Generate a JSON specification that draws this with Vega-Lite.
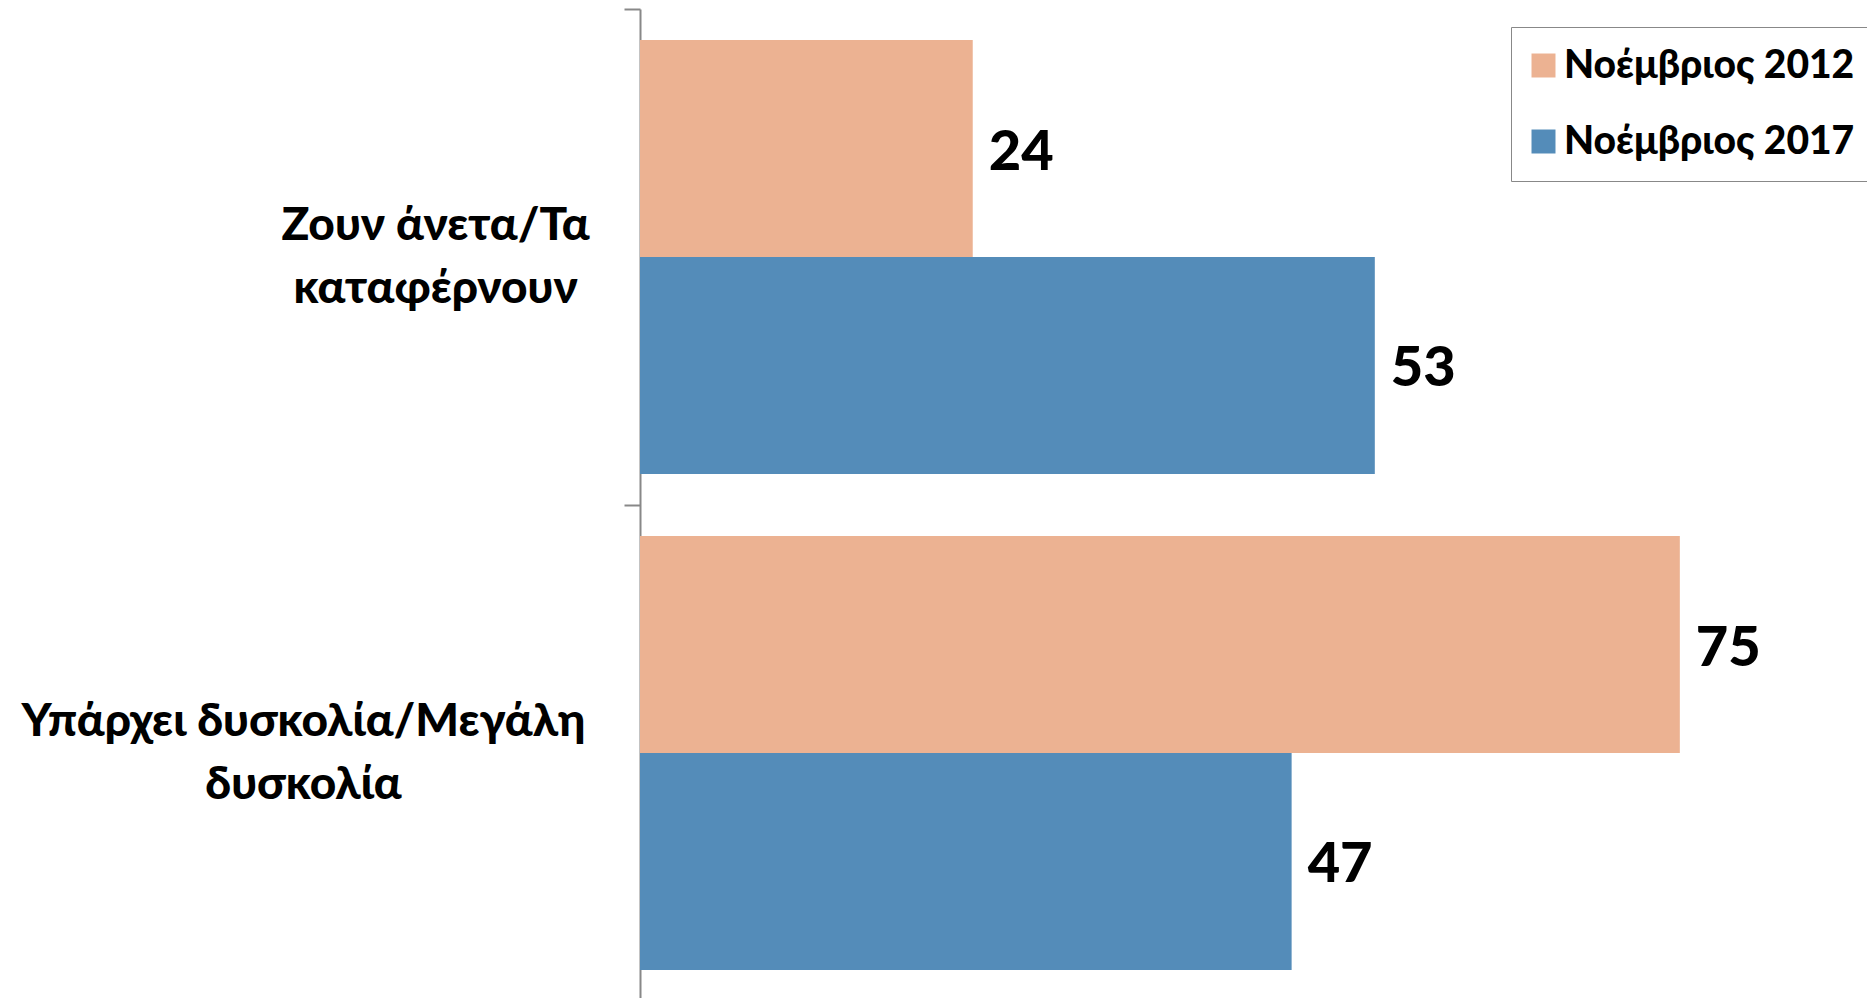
{
  "$schema": "https://vega.github.io/schema/vega-lite/v6.json",
  "autosize": "none",
  "padding": {"left": 640, "top": 9, "right": 0, "bottom": 0},
  "width": 1227,
  "height": 992,
  "background": "white",
  "data": {
    "values": [
      {"cat": "Ζουν άνετα/Τα\nκαταφέρνουν", "series": "Νοέμβριος 2012", "value": 24},
      {"cat": "Ζουν άνετα/Τα\nκαταφέρνουν", "series": "Νοέμβριος 2017", "value": 53},
      {"cat": "Υπάρχει δυσκολία/Μεγάλη\nδυσκολία", "series": "Νοέμβριος 2012", "value": 75},
      {"cat": "Υπάρχει δυσκολία/Μεγάλη\nδυσκολία", "series": "Νοέμβριος 2017", "value": 47}
    ]
  },
  "encoding": {
    "y": {
      "field": "cat", "type": "nominal", "sort": null,
      "scale": {"paddingInner": 0, "paddingOuter": 0},
      "axis": {
        "title": null,
        "tickBand": "extent",
        "domainColor": "#888888", "domainWidth": 2,
        "tickColor": "#888888", "tickWidth": 2, "tickSize": 16,
        "labelExpr": "split(datum.label, '\\n')",
        "labelAlign": "center", "labelBaseline": "middle",
        "labelFont": "Lato", "labelFontWeight": 900, "labelFontSize": 46,
        "labelLineHeight": 63, "labelColor": "black",
        "labelLimit": 0, "labelOffset": -32,
        "labelPadding": {"condition": {"test": "datum.index < 0.5", "value": 189}, "value": 321}
      }
    },
    "yOffset": {
      "field": "series", "type": "nominal", "sort": null,
      "scale": {"paddingInner": 0, "paddingOuter": 0.1435}
    },
    "x": {
      "field": "value", "type": "quantitative",
      "scale": {"domain": [0, 88.5], "nice": false, "zero": true},
      "axis": null
    }
  },
  "layer": [
    {
      "mark": {"type": "bar"},
      "encoding": {
        "color": {
          "field": "series", "type": "nominal", "sort": null,
          "scale": {"domain": ["Νοέμβριος 2012", "Νοέμβριος 2017"], "range": ["#ECB292", "#548CB9"]},
          "legend": {
            "title": null,
            "orient": "none", "legendX": 871, "legendY": 18,
            "padding": 19, "rowPadding": 36,
            "strokeColor": "#888888", "fillColor": "white",
            "symbolType": "square", "symbolSize": 576, "symbolStrokeWidth": 0,
            "symbolOffset": -6,
            "labelFont": "Lato", "labelFontWeight": 900, "labelFontSize": 39,
            "labelColor": "black", "labelOffset": 1, "labelLimit": 0
          }
        }
      }
    },
    {
      "mark": {"type": "text", "align": "left", "baseline": "middle", "dx": 16, "dy": 4,
               "font": "Lato", "fontWeight": 900, "fontSize": 56, "color": "black"},
      "encoding": {"text": {"field": "value", "type": "quantitative"}}
    }
  ],
  "config": {"view": {"stroke": null}}
}
